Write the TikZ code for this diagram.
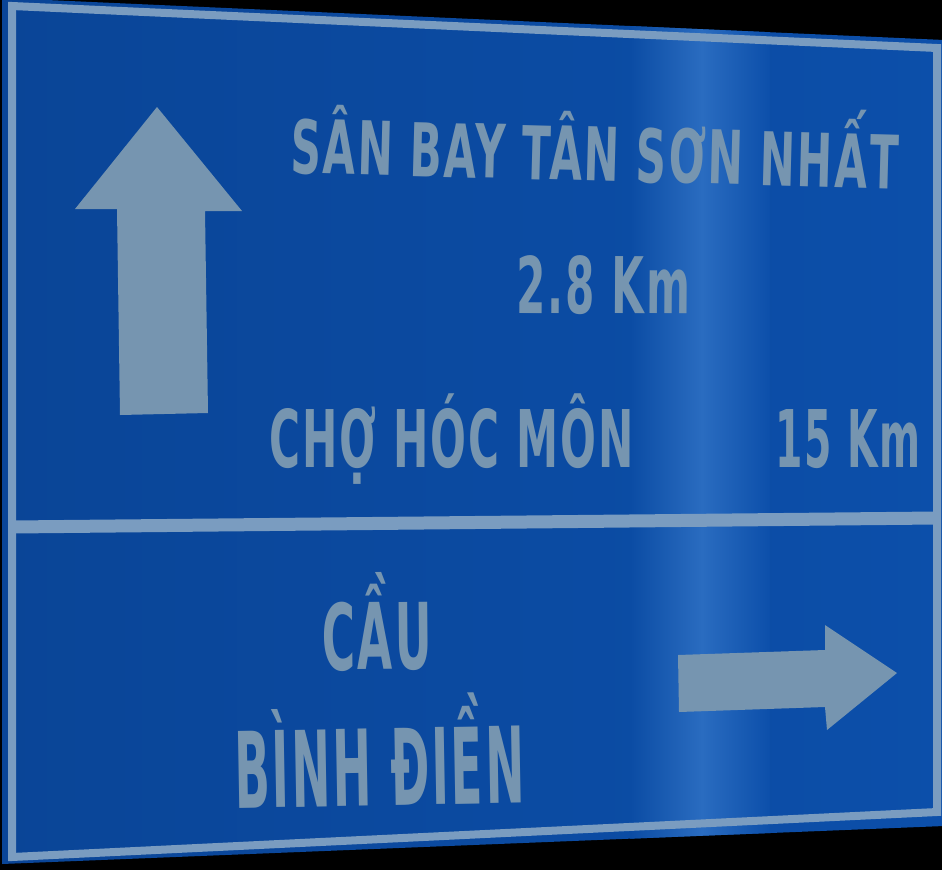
\documentclass[tikz,border=0pt]{standalone}
\usepackage{fontspec}
\usepackage{graphicx}
\newfontfamily\signfont[LetterSpace=5]{DejaVu Sans}
\definecolor{signblueL}{HTML}{0A4597}
\definecolor{signblueR}{HTML}{0C4FAA}
\definecolor{signblueM}{HTML}{0B4CA4}
\definecolor{glare}{HTML}{2A6CC0}
\definecolor{signink}{HTML}{7695B0}
\definecolor{signline}{HTML}{7A9CC0}
\newsavebox\sgbox
\newcommand\signtext[3]{%
  \sbox\sgbox{\signfont\bfseries\fontsize{100pt}{100pt}\selectfont #3}%
  \pgfmathsetmacro\sgsx{#1/\the\wd\sgbox}%
  \pgfmathsetmacro\sgsy{#2/72.9}%
  \scalebox{\sgsx}[\sgsy]{\usebox\sgbox}}
\tikzset{
  signlabel/.style={anchor=base west, inner sep=0pt, outer sep=0pt, text=signink},
  borderline/.style={draw=signline, line width=8pt, line join=miter},
  arrowshape/.style={fill=signink}
}
\begin{document}
\begin{tikzpicture}[x=1pt,y=-1pt]
  \useasboundingbox (0,0) rectangle (942,870);
  \fill[black] (0,0) rectangle (942,870);
  % panel
  \coordinate (pTL) at (2,-2);
  \coordinate (pTR) at (944,40);
  \coordinate (pBR) at (944,826);
  \coordinate (pBL) at (2,864);
  \begin{scope}
    \clip (pTL) -- (pTR) -- (pBR) -- (pBL) -- cycle;
    \shade[left color=signblueL, right color=signblueR] (0,-5) rectangle (945,870);
    \shade[left color=signblueM, right color=glare] (630,-5) rectangle (702,870);
    \shade[left color=glare, right color=signblueR] (702,-5) rectangle (770,870);
  \end{scope}
  % white border
  \coordinate (bTL) at (12,6);
  \coordinate (bTR) at (937,48);
  \coordinate (bBR) at (937,812);
  \coordinate (bBL) at (12,857);
  \draw[borderline] (bTL) -- (bTR) -- (bBR) -- (bBL) -- cycle;
  % divider
  \coordinate (dL) at (12,527);
  \coordinate (dR) at (937,518);
  \draw[draw=signline, line width=13pt] (dL) -- (dR);
  % up arrow
  \fill[arrowshape] (157,107) -- (242,211) -- (205,211) -- (208,413) -- (120,415) -- (117,209) -- (75,209) -- cycle;
  % right arrow
  \fill[arrowshape] (897,673) -- (827,730) -- (825,707) -- (679,712) -- (678,655) -- (825,650) -- (825,625) -- cycle;
  % texts
  \node[signlabel, rotate=-1.5] (t1) at (290,173) {\signtext{608}{54}{SÂN BAY TÂN SƠN NHẤT}};
  \node[signlabel, rotate=-0.3] (t2) at (516,313) {\signtext{174}{57}{2.8 Km}};
  \node[signlabel] (t3) at (269,467) {\signtext{365}{58}{CHỢ HÓC MÔN}};
  \node[signlabel] (t4) at (775,467) {\signtext{146}{58}{15 Km}};
  \node[signlabel, rotate=0.5] (t5) at (322,670) {\signtext{110}{67}{CẦU}};
  \node[signlabel, rotate=1] (t6) at (235,808) {\signtext{290}{77}{BÌNH ĐIỀN}};
\end{tikzpicture}
\end{document}
